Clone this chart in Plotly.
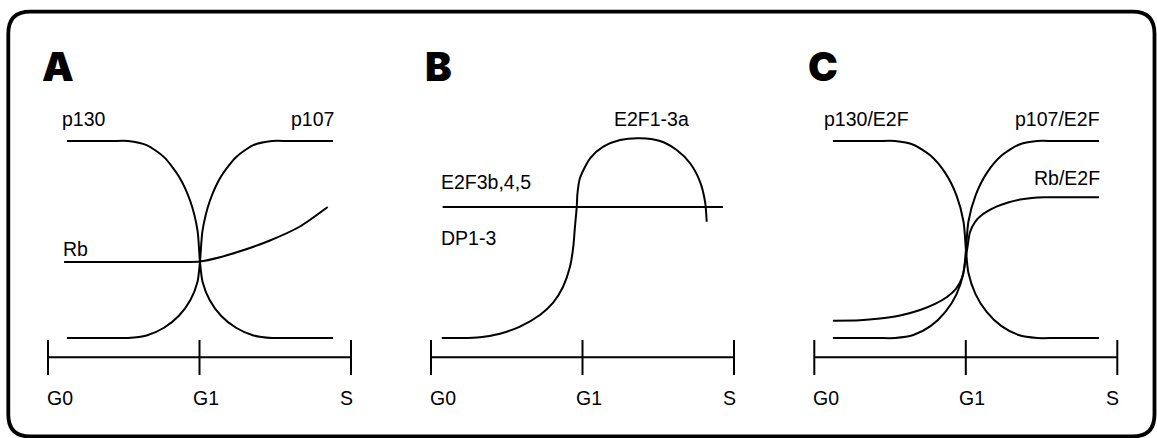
import plotly.graph_objects as go

# ---------------- data (x: cell-cycle phase units, y: relative level) ----------------
phase_labels = ["G0", "G1", "S"]
phase_pos = [0, 1, 2]

# Panel A
a_p130_x = [0.125, 0.30, 0.42, 0.528, 0.651, 0.766, 0.864, 0.940, 0.987, 1.003, 1.020, 1.067, 1.142, 1.241, 1.356, 1.479, 1.59, 1.72, 1.881]
a_p130_y = [1.0, 1.0, 1.0, 1.0, 0.979, 0.918, 0.820, 0.693, 0.545, 0.386, 0.286, 0.193, 0.113, 0.052, 0.013, 0.0, 0.0, 0.0, 0.0]
a_p107_x = [0.125, 0.30, 0.42, 0.528, 0.651, 0.766, 0.864, 0.940, 0.987, 1.003, 1.020, 1.067, 1.142, 1.241, 1.356, 1.479, 1.59, 1.72, 1.881]
a_p107_y = [0.0, 0.0, 0.0, 0.0, 0.013, 0.052, 0.113, 0.193, 0.286, 0.386, 0.545, 0.693, 0.820, 0.918, 0.979, 1.0, 1.0, 1.0, 1.0]
a_rb_x = [0.106, 0.35, 0.60, 0.80, 0.92, 1.003, 1.135, 1.267, 1.465, 1.663, 1.846]
a_rb_y = [0.386, 0.386, 0.386, 0.386, 0.386, 0.388, 0.410, 0.440, 0.495, 0.566, 0.665]

# Panel B
b_e2f3b_x = [0.077, 1.927]
b_e2f3b_y = [0.665, 0.665]
b_e2f1_x = [0.071, 0.20, 0.323, 0.455, 0.587, 0.719, 0.805, 0.871, 0.917, 0.939, 0.950, 0.962, 0.967,
            0.983, 1.050, 1.137, 1.248, 1.380, 1.512, 1.622, 1.710, 1.776, 1.809, 1.820]
b_e2f1_y = [0.0, 0.0, 0.004, 0.022, 0.058, 0.117, 0.178, 0.259, 0.360, 0.462, 0.563, 0.665, 0.736,
            0.811, 0.912, 0.971, 1.005, 1.014, 1.000, 0.954, 0.887, 0.793, 0.692, 0.590]

# Panel C
c_p130_x = [0.123, 0.30, 0.42, 0.533, 0.654, 0.767, 0.864, 0.939, 0.985, 1.001, 1.017, 1.064, 1.139, 1.236, 1.349, 1.470, 1.59, 1.72, 1.879]
c_p130_y = [1.0, 1.0, 1.0, 1.0, 0.981, 0.926, 0.838, 0.723, 0.590, 0.447, 0.331, 0.223, 0.131, 0.060, 0.015, 0.0, 0.0, 0.0, 0.0]
c_p107_x = [0.123, 0.30, 0.42, 0.533, 0.654, 0.767, 0.864, 0.939, 0.985, 1.001, 1.017, 1.064, 1.139, 1.236, 1.349, 1.470, 1.59, 1.72, 1.879]
c_p107_y = [0.0, 0.0, 0.0, 0.0, 0.015, 0.060, 0.131, 0.223, 0.331, 0.447, 0.590, 0.723, 0.838, 0.926, 0.981, 1.0, 1.0, 1.0, 1.0]
c_rb_x = [0.123, 0.301, 0.434, 0.566, 0.698, 0.797, 0.876, 0.935, 0.975, 0.995, 1.011, 1.028, 1.061,
          1.094, 1.147, 1.206, 1.279, 1.358, 1.437, 1.523, 1.65, 1.77, 1.879]
c_rb_y = [0.088, 0.090, 0.099, 0.114, 0.142, 0.173, 0.208, 0.249, 0.305, 0.381, 0.462, 0.538, 0.589,
          0.617, 0.645, 0.668, 0.688, 0.703, 0.711, 0.714, 0.714, 0.714, 0.714]

# timeline levels
timeline_y = -0.098
tick_top, tick_bottom = -0.010, -0.188
phase_label_y = -0.305

# ---------------- layout constants ----------------
W, H = 1157, 438
SX = 151.5           # px per phase unit
SY = 197.0           # px per level unit
BASE_PX = 338.0      # pixel row of level 0
panel_offsets = {"x": 48.0, "x2": 431.0, "x3": 814.3}

LINE = dict(color="black", width=2)
FONT = "Liberation Sans, Arial, sans-serif"

fig = go.Figure()


def curve(xs, ys, axis):
    fig.add_trace(go.Scatter(x=xs, y=ys, xaxis=axis, yaxis="y", mode="lines",
                             line=dict(color="black", width=2, shape="spline", smoothing=0.7),
                             hoverinfo="skip", showlegend=False))


def straight(xs, ys, axis):
    fig.add_trace(go.Scatter(x=xs, y=ys, xaxis=axis, yaxis="y", mode="lines",
                             line=LINE, hoverinfo="skip", showlegend=False))


def timeline(axis):
    straight([phase_pos[0], phase_pos[-1]], [timeline_y, timeline_y], axis)
    tx, ty = [], []
    for p in phase_pos:
        tx += [p, p, None]
        ty += [tick_top, tick_bottom, None]
    straight(tx, ty, axis)


# Panel A
curve(a_p130_x, a_p130_y, "x")
curve(a_p107_x, a_p107_y, "x")
curve(a_rb_x, a_rb_y, "x")
timeline("x")
# Panel B
straight(b_e2f3b_x, b_e2f3b_y, "x2")
curve(b_e2f1_x, b_e2f1_y, "x2")
timeline("x2")
# Panel C
curve(c_p130_x, c_p130_y, "x3")
curve(c_p107_x, c_p107_y, "x3")
curve(c_rb_x, c_rb_y, "x3")
timeline("x3")

annotations = []
PAD = 2.5 / SX   # compensate for annotation box padding


def label(text, x, y, axis, xanchor="left", size=19.5, **kw):
    if xanchor == "left":
        x -= PAD
    elif xanchor == "right":
        x += PAD
    annotations.append(dict(text=text, x=x, y=y, xref=axis, yref="y", xanchor=xanchor,
                            yanchor="middle", showarrow=False, borderpad=0,
                            font=dict(family=kw.get("family", FONT), size=size, color="black",
                                      weight=kw.get("weight", "normal"))))


for ax, letter in zip(["x", "x2", "x3"], ["A", "B", "C"]):
    label(letter, -0.03, 1.378, ax, size=40, family="Inter, Roboto, sans-serif", weight=900)
    label(phase_labels[0], phase_pos[0], phase_label_y, ax, "left")
    label(phase_labels[1], phase_pos[1] + 0.04, phase_label_y, ax, "center")
    label(phase_labels[2], phase_pos[2], phase_label_y, ax, "right")

label("p130", 0.099, 1.112, "x", "left")
label("p107", 1.881, 1.112, "x", "right")
label("Rb", 0.106, 0.452, "x", "left")

label("E2F1-3a", 1.696, 1.112, "x2", "right")
label("E2F3b,4,5", 0.073, 0.793, "x2", "left")
label("DP1-3", 0.073, 0.510, "x2", "left")

label("p130/E2F", 0.071, 1.112, "x3", "left")
label("p107/E2F", 1.873, 1.112, "x3", "right")
label("Rb/E2F", 1.873, 0.812, "x3", "right")

# rounded frame in paper coords
L, R, T, B, r = 8.3, 1154.5, 11.7, 436.5, 22.0


def P(px, py):
    return f"{px / W:.5f},{1 - py / H:.5f}"


frame_path = (f"M{P(L + r, T)} L{P(R - r, T)} Q{P(R, T)} {P(R, T + r)} "
              f"L{P(R, B - r)} Q{P(R, B)} {P(R - r, B)} L{P(L + r, B)} "
              f"Q{P(L, B)} {P(L, B - r)} L{P(L, T + r)} Q{P(L, T)} {P(L + r, T)} Z")

y_range = [(BASE_PX - H) / SY, BASE_PX / SY]


def xr(off):
    return [-off / SX, (W - off) / SX]


hidden = dict(visible=False, showgrid=False, zeroline=False, fixedrange=True)
fig.update_layout(
    width=W, height=H, margin=dict(l=0, r=0, t=0, b=0),
    paper_bgcolor="white", plot_bgcolor="white",
    xaxis=dict(range=xr(panel_offsets["x"]), domain=[0, 1], anchor="y", **hidden),
    xaxis2=dict(range=xr(panel_offsets["x2"]), domain=[0, 1], anchor="y", overlaying="x", **hidden),
    xaxis3=dict(range=xr(panel_offsets["x3"]), domain=[0, 1], anchor="y", overlaying="x", **hidden),
    yaxis=dict(range=y_range, domain=[0, 1], **hidden),
    annotations=annotations,
    shapes=[dict(type="path", path=frame_path, xref="paper", yref="paper",
                 line=dict(color="black", width=3.8), fillcolor="rgba(0,0,0,0)")],
    showlegend=False,
)

fig.write_html("out.html", config={"displayModeBar": False})
